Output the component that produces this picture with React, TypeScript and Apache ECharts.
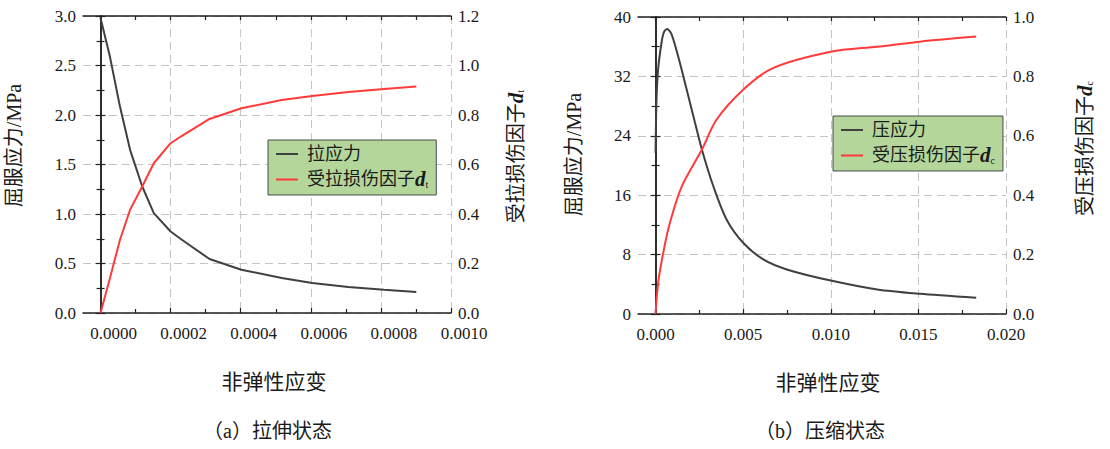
import { useEffect, useRef } from 'react'
import * as echarts from 'echarts'

// (a) 拉伸状态
const tensionStrain = [0, 0.0000268, 0.0000555, 0.0000843, 0.000119, 0.000152, 0.0002, 0.000229, 0.000311, 0.000402, 0.000517, 0.000604, 0.000707, 0.000809, 0.000901]
const tensionStress = [2.98, 2.59, 2.085, 1.648, 1.278, 1.009, 0.823, 0.747, 0.545, 0.437, 0.353, 0.303, 0.262, 0.235, 0.212]
const tensionDamage = [0, 0.14, 0.296, 0.417, 0.511, 0.605, 0.686, 0.713, 0.784, 0.827, 0.861, 0.877, 0.893, 0.905, 0.915]

// (b) 压缩状态
const compStressStrain = [0, 0.000057, 0.00015, 0.00034, 0.00047, 0.00066, 0.00091, 0.00129, 0.00177, 0.00225, 0.00264, 0.0033, 0.00406, 0.005, 0.00615, 0.00749, 0.01, 0.01265, 0.01509, 0.0183]
const compStress = [21.7, 28.9, 33.0, 36.5, 37.9, 38.4, 37.7, 34.7, 30.3, 25.8, 22.2, 17.2, 12.7, 9.6, 7.35, 6.0, 4.5, 3.3, 2.72, 2.18]
const compDamageStrain = [0, 0.00015, 0.00044, 0.00082, 0.0015, 0.00264, 0.00348, 0.005, 0.0067, 0.01, 0.01265, 0.01509, 0.0183]
const compDamage = [0, 0.105, 0.206, 0.307, 0.43, 0.553, 0.654, 0.755, 0.828, 0.883, 0.9, 0.917, 0.934]

// tick positions
const tensionMajorTicks = [0, 0.0002, 0.0004, 0.0006, 0.0008, 0.001]
const tensionMinorTicks = [0.0001, 0.0003, 0.0005, 0.0007, 0.0009]
const compMajorTicks = [0, 0.005, 0.01, 0.015, 0.02]
const compMinorTicks = [0.0025, 0.0075, 0.0125, 0.0175]

const SERIF = "'Liberation Serif', 'Noto Sans CJK SC', serif"
const AXIS_COLOR = '#222'
const BLACK = '#404040'
const RED = '#ff3a3a'

const axisLine = { show: true, lineStyle: { color: AXIS_COLOR, width: 1.5 } }
const dashed = { show: true, lineStyle: { color: '#c4c4c4', width: 1, type: [8, 5] } }
const labelStyle = { color: '#1a1a1a', fontSize: 17, fontFamily: SERIF }
const nameStyleBase = { color: '#1a1a1a', fontSize: 20, fontFamily: SERIF }
const subRich = {
  i: { fontStyle: 'italic', fontWeight: 'bold', fontSize: 21, fontFamily: SERIF, color: '#1a1a1a' },
  s: { fontSize: 10, fontFamily: SERIF, color: '#1a1a1a', verticalAlign: 'bottom', padding: [8, 0, 0, 0] }
}

function xAxes(gridIndex: number, min: number, max: number, major: number[], minor: number[], digits: number, labelPad: number, nameShift: number) {
  const shared = { type: 'value', gridIndex, min, max }
  return [
    {
      ...shared,
      position: 'bottom',
      axisLine,
      axisTick: { show: true, inside: true, length: 5, customValues: major, lineStyle: { color: AXIS_COLOR, width: 1.2 } },
      axisLabel: {
        ...labelStyle,
        customValues: major,
        margin: 12,
        padding: [0, 0, 0, labelPad],
        formatter: (v: number) => v.toFixed(digits)
      },
      splitLine: dashed,
      name: '非弹性应变',
      nameLocation: 'middle',
      nameGap: 58,
      nameTextStyle: { ...nameStyleBase, fontSize: 21, padding: [0, 0, 0, nameShift] }
    },
    {
      ...shared,
      position: 'bottom',
      axisLine: { show: false },
      axisTick: { show: true, inside: true, length: 4, customValues: minor, lineStyle: { color: AXIS_COLOR, width: 1.2 } },
      axisLabel: { show: false },
      splitLine: { show: false }
    },
    {
      ...shared,
      position: 'top',
      axisLine,
      axisTick: { show: true, inside: true, length: 4, customValues: [...major, ...minor], lineStyle: { color: AXIS_COLOR, width: 1.2 } },
      axisLabel: { show: false },
      splitLine: { show: false }
    }
  ]
}

function yAxis(gridIndex: number, position: string, max: number, interval: number, digits: number, name: string, nameGap: number, namePad: number, split: boolean) {
  return {
    type: 'value',
    gridIndex,
    position,
    min: 0,
    max,
    interval,
    axisLine,
    axisTick: { show: true, inside: true, length: 5, lineStyle: { color: AXIS_COLOR, width: 1.2 } },
    minorTick: { show: true, splitNumber: 2, length: 4, lineStyle: { color: AXIS_COLOR, width: 1.2 } },
    axisLabel: { ...labelStyle, margin: 7, formatter: (v: number) => v.toFixed(digits) },
    splitLine: split ? dashed : { show: false },
    name,
    nameLocation: 'middle',
    nameRotate: 90,
    nameGap,
    nameTextStyle: { ...nameStyleBase, padding: [0, 0, 0, namePad], rich: subRich }
  }
}

function legend(left: number, top: number, names: string[]) {
  return {
    left,
    top,
    orient: 'vertical',
    data: names,
    backgroundColor: '#b5d69b',
    borderColor: '#4a4a4a',
    borderWidth: 1,
    borderRadius: 0,
    padding: [5, 8, 5, 8],
    itemGap: 6,
    itemWidth: 22,
    itemHeight: 2,
    icon: 'rect',
    formatter: (n: string) => n.endsWith('dt') ? n.slice(0, -2) + '{i|d}{s|t}' : n.endsWith('dc') ? n.slice(0, -2) + '{i|d}{s|c}' : n,
    textStyle: { color: '#1a1a1a', fontSize: 18, fontFamily: SERIF, padding: [0, 0, 0, 4], rich: subRich }
  }
}

function lineSeries(name: string, xs: number[], ys: number[], xAxisIndex: number, yAxisIndex: number, color: string, smooth: number | boolean) {
  return {
    type: 'line',
    name,
    xAxisIndex,
    yAxisIndex,
    data: xs.map((x, i) => [x, ys[i]]),
    showSymbol: false,
    symbol: 'none',
    smooth,
    lineStyle: { color, width: 2 },
    itemStyle: { color }
  }
}

export default function App() {
  const ref = useRef<HTMLDivElement>(null)

  useEffect(() => {
    if (!ref.current) return
    const chart = echarts.init(ref.current, null, { renderer: 'svg' })
    chart.setOption({
      animation: false,
      backgroundColor: '#ffffff',
      grid: [
        { left: 83, top: 16, width: 368, height: 297 },
        { left: 638, top: 17, width: 368, height: 297 }
      ],
      xAxis: [
        ...xAxes(0, -0.00005, 0.001, tensionMajorTicks, tensionMinorTicks, 4, 26, 14),
        ...xAxes(1, -0.001, 0.02, compMajorTicks, compMinorTicks, 3, 0, 12)
      ],
      yAxis: [
        yAxis(0, 'left', 3, 0.5, 1, '屈服应力/MPa', 59, 38, true),
        yAxis(0, 'right', 1.2, 0.2, 1, '受拉损伤因子{i|d}{s|t}', 54, 16, false),
        yAxis(1, 'left', 40, 8, 0, '屈服应力/MPa', 54, 22, true),
        yAxis(1, 'right', 1, 0.2, 1, '受压损伤因子{i|d}{s|c}', 68, 34, false)
      ],
      legend: [
        legend(268, 140, ['拉应力', '受拉损伤因子dt']),
        legend(833, 116, ['压应力', '受压损伤因子dc'])
      ],
      series: [
        lineSeries('拉应力', tensionStrain, tensionStress, 0, 0, BLACK, false),
        lineSeries('受拉损伤因子dt', tensionStrain, tensionDamage, 0, 1, RED, false),
        lineSeries('压应力', compStressStrain, compStress, 3, 2, BLACK, 0.3),
        lineSeries('受压损伤因子dc', compDamageStrain, compDamage, 3, 3, RED, 0.3)
      ],
      graphic: [
        { type: 'text', left: 273 - 70, top: 421, style: { text: '（a）拉伸状态', fontSize: 20, fontFamily: SERIF, fill: '#1a1a1a' } },
        { type: 'text', left: 825 - 70, top: 421, style: { text: '（b）压缩状态', fontSize: 20, fontFamily: SERIF, fill: '#1a1a1a' } }
      ]
    })
    return () => chart.dispose()
  }, [])

  return <div ref={ref} style={{ position: 'fixed', left: 0, top: 0, width: 1110, height: 449, background: '#fff' }} />
}
